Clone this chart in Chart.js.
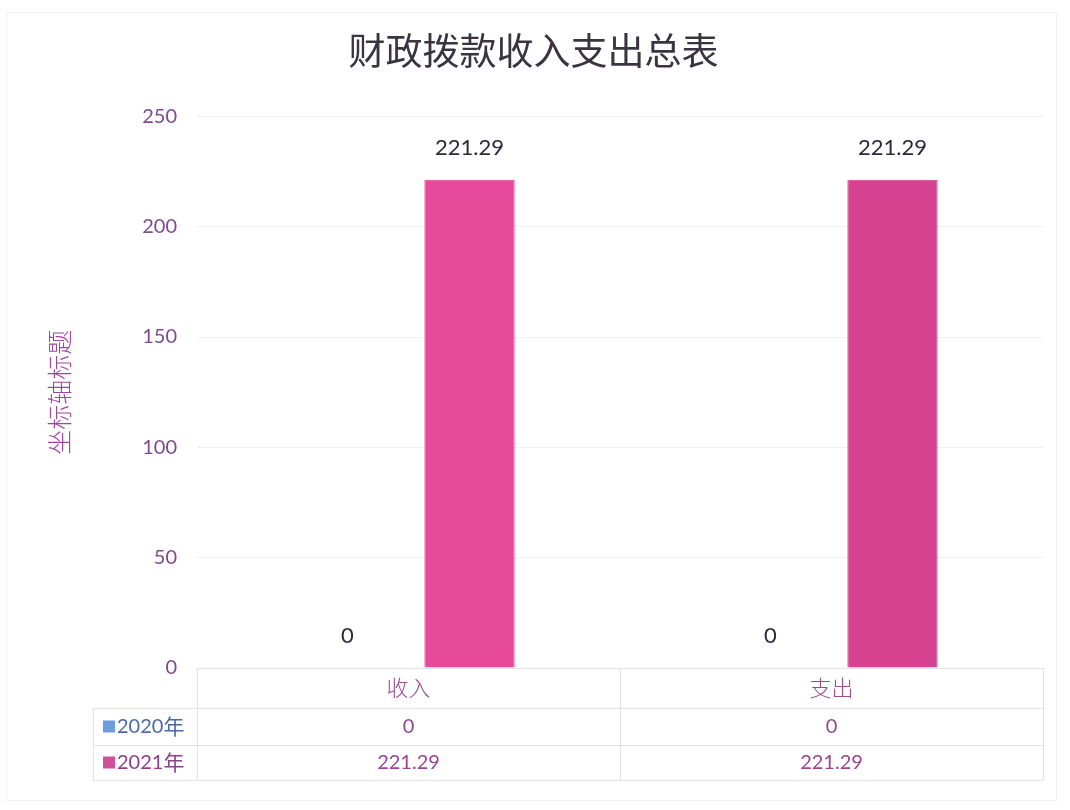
<!DOCTYPE html>
<html>
<head>
<meta charset="utf-8">
<script src="https://cdn.jsdelivr.net/npm/chart.js@4/dist/chart.umd.min.js"></script>
<style>
html,body{margin:0;padding:0;background:#fff;}
#wrap{width:1070px;height:810px;position:relative;}
</style>
</head>
<body>
<div id="wrap"><canvas id="c" width="1070" height="810"></canvas></div>
<script>
const chartTitle = '财政拨款收入支出总表';
const axisTitle = '坐标轴标题';
const categories = ['收入', '支出'];
const seriesNames = ['2020年', '2021年'];
const values2020 = [0, 0];
const values2021 = [221.29, 221.29];
const yTicks = [0, 50, 100, 150, 200, 250];

const CJK = '"Noto Sans CJK SC", "Noto Sans", sans-serif';
const NUM = 'Lato, "Open Sans", sans-serif';

const frame = {
  id: 'frame',
  beforeDraw(chart) {
    const ctx = chart.ctx;
    ctx.save();
    ctx.fillStyle = '#ffffff';
    ctx.fillRect(0, 0, chart.width, chart.height);
    ctx.strokeStyle = '#f1f1f1';
    ctx.lineWidth = 1;
    ctx.strokeRect(6.5, 12.5, 1050, 788);
    ctx.restore();
  }
};

const valueLabels = {
  id: 'valueLabels',
  afterDatasetsDraw(chart) {
    const ctx = chart.ctx;
    ctx.save();
    ctx.font = '22px ' + NUM;
    ctx.fillStyle = '#2a2a3a';
    ctx.textAlign = 'center';
    ctx.textBaseline = 'middle';
    chart.data.datasets.forEach((ds, di) => {
      const meta = chart.getDatasetMeta(di);
      meta.data.forEach((bar, i) => {
        ctx.fillText(String(ds.data[i]), bar.x, bar.y - 32);
      });
    });
    ctx.restore();
  }
};

const dataTable = {
  id: 'dataTable',
  afterDraw(chart) {
    const ctx = chart.ctx;
    const area = chart.chartArea;
    const x = chart.scales.x;
    const top = area.bottom;
    const rows = [top, top + 40, top + 77, top + 112];
    const legendLeft = 93;
    ctx.save();
    ctx.strokeStyle = '#e2e2e2';
    ctx.lineWidth = 1;
    ctx.beginPath();
    ctx.moveTo(area.left, rows[0] + 0.5); ctx.lineTo(area.right, rows[0] + 0.5);
    for (let r = 1; r < rows.length; r++) {
      ctx.moveTo(legendLeft, rows[r] + 0.5); ctx.lineTo(area.right, rows[r] + 0.5);
    }
    const colW = (area.right - area.left) / categories.length;
    for (let c = 0; c <= categories.length; c++) {
      const xx = Math.round(area.left + c * colW) + 0.5;
      ctx.moveTo(xx, rows[0]); ctx.lineTo(xx, rows[3]);
    }
    ctx.moveTo(legendLeft + 0.5, rows[1]); ctx.lineTo(legendLeft + 0.5, rows[3]);
    ctx.stroke();

    ctx.textAlign = 'center';
    ctx.textBaseline = 'middle';
    ctx.font = '300 22px ' + CJK;
    ctx.fillStyle = '#9a4c92';
    categories.forEach((cat, i) => {
      ctx.fillText(cat, x.getPixelForValue(i), (rows[0] + rows[1]) / 2);
    });
    ctx.font = '20px ' + NUM;
    const series = [values2020, values2021];
    const rowColors = ['#8a4a92', '#9a4592'];
    series.forEach((vals, s) => {
      const cy = (rows[s + 1] + rows[s + 2]) / 2;
      ctx.fillStyle = rowColors[s];
      vals.forEach((v, i) => {
        ctx.fillText(String(v), x.getPixelForValue(i), cy);
      });
    });
    // legend keys
    ctx.textAlign = 'left';
    const keyColors = ['#6f9be0', '#d0509a'];
    const textColors = ['#4a68b0', '#8e3f8c'];
    seriesNames.forEach((name, s) => {
      const cy = (rows[s + 1] + rows[s + 2]) / 2;
      ctx.fillStyle = keyColors[s];
      ctx.fillRect(103, cy - 6, 12, 12);
      ctx.fillStyle = textColors[s];
      ctx.font = '20px ' + NUM;
      const w = ctx.measureText(name.slice(0, 4)).width;
      ctx.fillText(name.slice(0, 4), 117, cy);
      ctx.font = '21px ' + CJK;
      ctx.fillText(name.slice(4), 117 + w, cy);
    });
    ctx.restore();
  }
};

new Chart(document.getElementById('c'), {
  type: 'bar',
  data: {
    labels: categories,
    datasets: [
      { label: seriesNames[0], data: values2020, backgroundColor: '#5b9bd5',
        categoryPercentage: 0.577, barPercentage: 0.74 },
      { label: seriesNames[1], data: values2021, backgroundColor: ['#e6489a', '#d6428f'],
        borderColor: ['#e0428f', '#cf3d88'], borderWidth: 1,
        categoryPercentage: 0.577, barPercentage: 0.74 }
    ]
  },
  options: {
    responsive: false,
    animation: false,
    devicePixelRatio: 1,
    layout: { padding: { left: 24, right: 27, top: 0, bottom: 142 } },
    plugins: {
      legend: { display: false },
      tooltip: { enabled: false },
      title: {
        display: true,
        text: chartTitle,
        color: '#3a3340',
        font: { family: CJK, size: 37, weight: '400' },
        padding: { top: 29, bottom: 43 }
      }
    },
    scales: {
      x: { display: false },
      y: {
        min: 0, max: 250,
        afterFit(scale) { scale.width = 173; },
        afterBuildTicks(scale) { scale.ticks = yTicks.map(v => ({ value: v })); },
        ticks: {
          color: '#7e4a90',
          font: { family: NUM, size: 20 },
          padding: 20
        },
        grid: { color: '#f0f0f0', drawTicks: false },
        border: { display: false },
        title: {
          display: true,
          text: axisTitle,
          color: '#a0479c',
          font: { family: CJK, size: 25, weight: '300' },
          padding: { top: 20, bottom: 0 }
        }
      }
    }
  },
  plugins: [frame, valueLabels, dataTable]
});
</script>
</body>
</html>
